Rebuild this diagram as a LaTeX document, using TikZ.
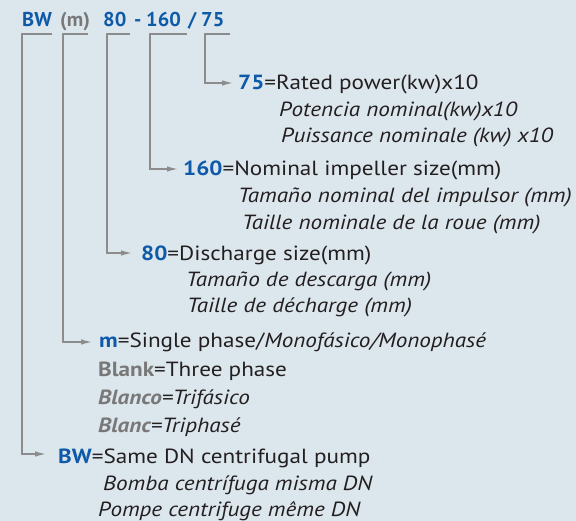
\documentclass[tikz,border=0pt]{standalone}
\usepackage{fontspec}
\setmainfont{PT Sans}[FakeStretch=1.13]
\newfontfamily\hdrfont{PT Sans}[FakeStretch=1.02]
\usetikzlibrary{arrows.meta,calc}
\definecolor{bg}{RGB}{220,230,237}
\definecolor{pblue}{RGB}{14,90,168}
\definecolor{pgray}{RGB}{120,120,120}
\definecolor{ptext}{RGB}{35,31,32}
\definecolor{pline}{RGB}{140,140,140}
\newcommand{\hb}[1]{\textbf{\textcolor{pblue}{#1}}}
\newcommand{\hg}[1]{\textbf{\textcolor{pgray}{#1}}}
\begin{document}
\begin{tikzpicture}[x=1pt,y=-1pt,
  txt/.style={anchor=base west,inner sep=0pt,font=\fontsize{20.5}{24}\selectfont,text=ptext},
  itx/.style={txt,font=\fontsize{20.5}{24}\selectfont\itshape},
  hdr/.style={anchor=base west,inner sep=0pt,font=\hdrfont\fontsize{20}{24}\selectfont\bfseries,text=pblue},
  conn/.style={draw=pline,line width=1.4pt},
  arr/.style={conn,-{Latex[length=11pt,width=5.5pt]}},
]
\fill[bg] (0,0) rectangle (576,521);
\useasboundingbox (0,0) rectangle (576,521);

% header
\node[hdr] (hBW) at (22,27) {BW};
\node[hdr,text=pgray] (hM) at (60,27) {(m)};
\node[hdr] (h80) at (103,27) {80};
\node[hdr] (hD) at (134,27) {-};
\node[hdr] (h160) at (146,27) {160};
\node[hdr] (hS) at (188,27) {/};
\node[hdr] (h75) at (201,27) {75};

% 75
\node[txt] (t75a) at (238,90) {\hb{75}=Rated power(kw)x10};
\node[itx] (t75b) at (279,117) {Potencia nominal(kw)x10};
\node[itx] (t75c) at (281,143) {Puissance nominale (kw) x10};
% 160
\node[txt] (t160a) at (183,176) {\hb{160}=Nominal impeller size(mm)};
\node[itx] (t160b) at (238,203) {Tamaño nominal del impulsor (mm)};
\node[itx] (t160c) at (242,230) {Taille nominale de la roue (mm)};
% 80
\node[txt] (t80a) at (141,261) {\hb{80}=Discharge size(mm)};
\node[itx] (t80b) at (186,287) {Tamaño de descarga (mm)};
\node[itx] (t80c) at (187,313) {Taille de décharge (mm)};
% m
\node[txt] (tma) at (99,348) {\hb{m}=Single phase/\textit{Monofásico/Monophasé}};
\node[txt] (tmb) at (98,377) {\hg{Blank}=Three phase};
\node[itx] (tmc) at (98,405) {\hg{Blanco}=Trifásico};
\node[itx] (tmd) at (98,432) {\hg{Blanc}=Triphasé};
% BW
\node[txt] (tBWa) at (58,464) {\hb{BW}=Same DN centrifugal pump};
\node[itx] (tBWb) at (103,490) {Bomba centrífuga misma DN};
\node[itx] (tBWc) at (98,516) {Pompe centrifuge même DN};

% bracket corners
\coordinate (k75)  at (205,34); \coordinate (k75e)  at (230,34);
\coordinate (k160) at (150,34); \coordinate (k160e) at (187,34);
\coordinate (k80)  at (107,34); \coordinate (k80e)  at (130,34);
\coordinate (km)   at (63,34);  \coordinate (kme)   at (88,34);
\coordinate (kBW)  at (22,34);  \coordinate (kBWe)  at (52,34);

\draw[arr] (k75e) -- (k75) |- ([xshift=-5pt,yshift=7pt]t75a.base west);
\draw[arr] (k160e) -- (k160) |- ([xshift=-5pt,yshift=7pt]t160a.base west);
\draw[arr] (k80e) -- (k80) |- ([xshift=-9pt,yshift=8pt]t80a.base west);
\draw[arr] (kme) -- (km) |- ([xshift=-7pt,yshift=6pt]tma.base west);
\draw[arr] (kBWe) -- (kBW) |- ([xshift=-12pt,yshift=10pt]tBWa.base west);
\end{tikzpicture}
\end{document}
